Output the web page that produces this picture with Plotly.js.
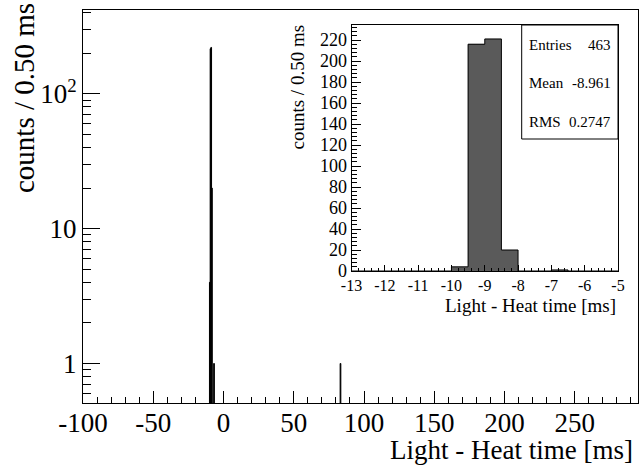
<!DOCTYPE html>
<html>
<head>
<meta charset="utf-8">
<script src="https://cdn.plot.ly/plotly-3.0.1.min.js"></script>
<style>html,body{margin:0;padding:0;background:#fff;}#plot{width:640px;height:465px;}</style>
</head>
<body>
<div id="plot"></div>
<script>
// Histogram data (bin width 0.50 ms): lower bin edges and counts
const binLowEdges = [-10.0, -9.5, -9.0, -8.5, -7.0, 83.0];
const binCounts   = [4, 216, 221, 20, 1, 1];
const binWidth = 0.5;

// Stats box
const statLabels = ["Entries", "Mean", "RMS"];
const statValues = ["463", "-8.961", "0.2747"];

// Tick labels
const mainXTickVals = [-100, -50, 0, 50, 100, 150, 200, 250];
const mainXTickText = ["-100", "-50", "0", "50", "100", "150", "200", "250"];
const mainYTickVals = [1, 10, 100];
const mainYTickText = ["1", "10", "10<sup>2</sup>"];
const mainYMinorVals = [0.6,0.7,0.8,0.9,2,3,4,5,6,7,8,9,20,30,40,50,60,70,80,90,200,300,400];
const insetXTickVals = [-13, -12, -11, -10, -9, -8, -7, -6, -5];
const insetXTickText = ["-13", "-12", "-11", "-10", "-9", "-8", "-7", "-6", "-5"];

const FONT = "Liberation Serif, Times New Roman, serif";

const centers = binLowEdges.map(e => e + binWidth / 2);

// Inset outline (step line) over the inset range
const insetLo = -13, insetHi = -5;
const stepX = [], stepY = [];
for (let e = insetLo; e < insetHi - 1e-9; e += binWidth) {
  const i = binLowEdges.findIndex(b => Math.abs(b - e) < 1e-9);
  const c = i >= 0 ? binCounts[i] : 0;
  stepX.push(e, e + binWidth);
  stepY.push(c, c);
}

const traces = [
  {
    type: "bar", x: centers, y: binCounts, width: binWidth,
    marker: {color: "black", line: {color: "black", width: 1}},
    xaxis: "x", yaxis: "y", hoverinfo: "skip"
  },
  {
    type: "bar", x: centers, y: binCounts, width: binWidth,
    marker: {color: "#5a5a5a", line: {width: 0}},
    xaxis: "x2", yaxis: "y2", hoverinfo: "skip"
  },
  {
    type: "scatter", mode: "lines", x: stepX, y: stepY,
    line: {color: "black", width: 1},
    xaxis: "x2", yaxis: "y2", hoverinfo: "skip"
  }
];

const W = 555, H = 393, L = 83, T = 10;
const px = v => (v - L) / W;
const py = v => (T + H - v) / H;

const layout = {
  width: 640, height: 465,
  margin: {l: L, r: 2, t: T, b: 62, pad: 0},
  paper_bgcolor: "white", plot_bgcolor: "white",
  showlegend: false, bargap: 0, barmode: "overlay",
  font: {family: FONT, color: "black"},
  xaxis: {
    range: [-100, 295], tickmode: "array", tickvals: mainXTickVals, ticktext: mainXTickText,
    ticks: "inside", ticklen: 12, tickwidth: 1, tickcolor: "black",
    minor: {dtick: 10, tick0: -100, ticks: "inside", ticklen: 6, tickcolor: "black"},
    showline: true, mirror: true, linecolor: "black", linewidth: 1,
    showgrid: false, zeroline: false, ticklabelstandoff: -4,
    tickfont: {family: FONT, size: 27, color: "black"}
  },
  yaxis: {
    type: "log", range: [-0.293, 2.622],
    tickmode: "array", tickvals: mainYTickVals, ticktext: mainYTickText,
    ticks: "inside", ticklen: 17, tickwidth: 1, tickcolor: "black",
    minor: {tickmode: "array", tickvals: mainYMinorVals, ticks: "inside", ticklen: 8, tickcolor: "black"},
    showline: true, mirror: true, linecolor: "black", linewidth: 1,
    showgrid: false, zeroline: false,
    tickfont: {family: FONT, size: 27, color: "black"}
  },
  xaxis2: {
    domain: [px(351.5), px(618)], anchor: "y2",
    range: [insetLo, insetHi], tickmode: "array", tickvals: insetXTickVals, ticktext: insetXTickText,
    ticks: "inside", ticklen: 6, tickwidth: 1, tickcolor: "black",
    minor: {dtick: 0.2, tick0: -13, ticks: "inside", ticklen: 3, tickcolor: "black"},
    showline: true, mirror: true, linecolor: "black", linewidth: 1,
    showgrid: false, zeroline: false,
    tickfont: {family: FONT, size: 16, color: "black"}
  },
  yaxis2: {
    domain: [py(271), py(25)], anchor: "x2",
    range: [0, 234.3], tick0: 0, dtick: 20,
    ticks: "inside", ticklen: 9, tickwidth: 1, tickcolor: "black",
    minor: {dtick: 4, ticks: "inside", ticklen: 5, tickcolor: "black"},
    showline: true, mirror: true, linecolor: "black", linewidth: 1,
    showgrid: false, zeroline: false,
    tickfont: {family: FONT, size: 18, color: "black"}
  },
  shapes: [
    {type: "rect", xref: "paper", yref: "paper",
     x0: px(521.7), x1: px(618), y0: py(139), y1: py(25),
     fillcolor: "white", line: {color: "black", width: 1}, layer: "above"}
  ],
  annotations: [
    {text: "Light - Heat time [ms]", xref: "paper", yref: "paper",
     x: px(635), y: py(450), xanchor: "right", yanchor: "middle", showarrow: false,
     font: {family: FONT, size: 27, color: "black"}},
    {text: "counts / 0.50 ms", xref: "paper", yref: "paper", textangle: -90,
     x: px(24), y: py(1), xanchor: "center", yanchor: "top", showarrow: false,
     font: {family: FONT, size: 29, color: "black"}},
    {text: "Light - Heat time [ms]", xref: "paper", yref: "paper",
     x: px(618), y: py(305), xanchor: "right", yanchor: "middle", showarrow: false,
     font: {family: FONT, size: 19, color: "black"}},
    {text: "counts / 0.50 ms", xref: "paper", yref: "paper", textangle: -90,
     x: px(297), y: py(23), xanchor: "center", yanchor: "top", showarrow: false,
     font: {family: FONT, size: 19, color: "black"}}
  ]
};

const rowY = [45, 83.3, 121.7];
statLabels.forEach((s, i) => {
  layout.annotations.push({text: s, xref: "paper", yref: "paper",
    x: px(527), y: py(rowY[i]), xanchor: "left", yanchor: "middle", showarrow: false,
    font: {family: FONT, size: 15, color: "black"}});
  layout.annotations.push({text: statValues[i], xref: "paper", yref: "paper",
    x: px(613), y: py(rowY[i]), xanchor: "right", yanchor: "middle", showarrow: false,
    font: {family: FONT, size: 15, color: "black"}});
});

Plotly.newPlot("plot", traces, layout, {staticPlot: true, displayModeBar: false});
</script>
</body>
</html>
